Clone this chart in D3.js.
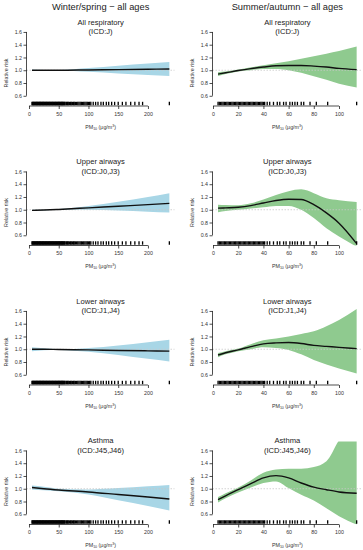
<!DOCTYPE html>
<html>
<head>
<meta charset="utf-8">
<script src="https://cdn.jsdelivr.net/npm/d3@7"></script>
<style>
body { margin: 0; background: #fff; }
svg { display: block; font-family: "Liberation Sans", Arial, sans-serif; }
</style>
</head>
<body>
<svg width="363" height="550"></svg>
<script>
// column headings and panel titles
var columnTitles = ["Winter/spring \u2212 all ages", "Summer/autumn \u2212 all ages"];
var outcomes = ["All respiratory", "Upper airways", "Lower airways", "Asthma"];
var codes = ["(ICD:J)", "(ICD:J0,J3)", "(ICD:J1,J4)", "(ICD:J45,J46)"];

var yTicks = [0.6, 0.8, 1.0, 1.2, 1.4, 1.6];
var xTicksWinter = [0, 50, 100, 150, 200];
var xTicksSummer = [0, 20, 40, 60, 80, 100];

// winter/spring curves (PM10 values along x)
var xWinter = [5, 25, 50, 100, 150, 200, 236];
var allRespWFit = [1.00, 1.00, 1.00, 1.005, 1.01, 1.015, 1.02];
var allRespWLo = [0.99, 0.995, 0.995, 0.975, 0.95, 0.925, 0.91];
var allRespWHi = [1.01, 1.005, 1.005, 1.035, 1.07, 1.105, 1.13];
var upperWFit = [0.99, 0.995, 1.005, 1.03, 1.055, 1.08, 1.10];
var upperWLo = [0.98, 0.99, 1.0, 1.0, 0.99, 0.97, 0.955];
var upperWHi = [1.0, 1.0, 1.01, 1.06, 1.125, 1.2, 1.26];
var lowerWFit = [1.00, 1.00, 0.995, 0.99, 0.98, 0.975, 0.97];
var lowerWLo = [0.97, 0.985, 0.99, 0.96, 0.91, 0.85, 0.81];
var lowerWHi = [1.03, 1.015, 1.0, 1.02, 1.06, 1.11, 1.15];
var asthmaWFit = [1.02, 1.00, 0.98, 0.95, 0.91, 0.87, 0.84];
var asthmaWLo = [0.99, 0.975, 0.96, 0.91, 0.82, 0.73, 0.66];
var asthmaWHi = [1.05, 1.03, 1.00, 0.99, 1.01, 1.04, 1.06];

// summer/autumn curves
var xSummer = [4, 10, 20, 30, 40, 50, 60, 70, 80, 90, 100, 114];
var allRespSFit = [0.94, 0.96, 0.995, 1.025, 1.05, 1.07, 1.075, 1.075, 1.065, 1.05, 1.03, 1.01];
var allRespSLo = [0.91, 0.94, 0.98, 1.0, 1.02, 1.02, 1.0, 0.96, 0.905, 0.85, 0.79, 0.73];
var allRespSHi = [0.97, 0.98, 1.01, 1.045, 1.08, 1.11, 1.14, 1.18, 1.22, 1.26, 1.30, 1.37];
var upperSFit = [1.025, 1.03, 1.04, 1.065, 1.105, 1.145, 1.165, 1.16, 1.08, 0.95, 0.79, 0.47];
var upperSLo = [0.96, 0.98, 1.0, 1.02, 1.04, 1.06, 1.06, 1.0, 0.87, 0.71, 0.58, 0.42];
var upperSHi = [1.08, 1.075, 1.07, 1.10, 1.16, 1.23, 1.29, 1.32, 1.26, 1.18, 1.15, 1.12];
var lowerSFit = [0.91, 0.945, 0.99, 1.04, 1.085, 1.10, 1.105, 1.09, 1.06, 1.045, 1.03, 1.01];
var lowerSLo = [0.875, 0.92, 0.97, 1.0, 1.03, 1.02, 0.99, 0.92, 0.83, 0.76, 0.70, 0.62];
var lowerSHi = [0.94, 0.97, 1.01, 1.08, 1.14, 1.17, 1.20, 1.24, 1.28, 1.36, 1.46, 1.63];
var asthmaSFit = [0.83, 0.89, 0.985, 1.08, 1.17, 1.205, 1.17, 1.09, 1.025, 0.985, 0.95, 0.93];
var asthmaSLo = [0.785, 0.85, 0.94, 1.02, 1.09, 1.115, 1.01, 0.905, 0.815, 0.695, 0.57, 0.44];
var asthmaSHi = [0.87, 0.93, 1.02, 1.13, 1.25, 1.30, 1.315, 1.315, 1.34, 1.43, 1.76, 2.1];

// observed PM10 values shown as rug
var rugWinter = [5,6,7,8,9,10,11,12,13,14,15,16,17,18,19,20,21,22,23,24,25,26,27,28,29,30,
  31,32,33,34,35,36,37,38,39,40,41,42,43,44,45,46,47,48,49,50,51,52,53,54,55,56,57,58,59,60,
  62,63,65,66,68,70,71,73,75,76,78,80,82,84,86,88,90,92,94,96,98,100,102,104,
  108,112,116,121,125,130,134,139,144,150,157,163,171,178,185,191,236];
var rugSummer = [4,5,6,7,8,9,10,11,12,13,14,15,16,17,18,19,20,21,22,23,24,25,26,27,28,29,30,
  31,32,33,34,35,36,37,38,39,40,41,43,45,48,51,53,56,58,61,63,65,67,70,72,77,82,91,114];

var winterPanels = [
  { fit: allRespWFit, lo: allRespWLo, hi: allRespWHi },
  { fit: upperWFit, lo: upperWLo, hi: upperWHi },
  { fit: lowerWFit, lo: lowerWLo, hi: lowerWHi },
  { fit: asthmaWFit, lo: asthmaWLo, hi: asthmaWHi }];
var summerPanels = [
  { fit: allRespSFit, lo: allRespSLo, hi: allRespSHi },
  { fit: upperSFit, lo: upperSLo, hi: upperSHi },
  { fit: lowerSFit, lo: lowerSLo, hi: lowerSHi },
  { fit: asthmaSFit, lo: asthmaSLo, hi: asthmaSHi }];

var columns = [
  { xs: xWinter, panels: winterPanels, rug: rugWinter, ticks: xTicksWinter, fill: "#a8d6e6",
    x: d3.scaleLinear().domain([-4.2, 245]).range([26.5, 174.7]) },
  { xs: xSummer, panels: summerPanels, rug: rugSummer, ticks: xTicksSummer, fill: "#8fca8f",
    x: d3.scaleLinear().domain([-0.4, 118.4]).range([212.5, 362.2]) }
];

var rowStep = 139.5;
var svg = d3.select("svg");

columns.forEach(function (col, ci) {
  var x = col.x;
  var cx = (x.range()[0] + x.range()[1]) / 2;

  svg.append("text")
    .attr("x", cx).attr("y", 9.6)
    .attr("text-anchor", "middle")
    .attr("font-size", 9.3)
    .attr("fill", "#222")
    .text(columnTitles[ci]);

  col.panels.forEach(function (p, r) {
    var oy = r * rowStep;
    var y = d3.scaleLinear().domain([0.44, 1.74]).range([oy + 106, oy + 23]);
    var axisY = oy + 106;
    var g = svg.append("g");

    var clipId = "clip" + ci + r;
    g.append("clipPath").attr("id", clipId)
      .append("rect")
      .attr("x", x.range()[0]).attr("y", y.range()[1])
      .attr("width", x.range()[1] - x.range()[0])
      .attr("height", y.range()[0] - y.range()[1]);

    var rows = col.xs.map(function (v, i) {
      return { x: v, fit: p.fit[i], lo: p.lo[i], hi: p.hi[i] };
    });

    var band = d3.area()
      .x(function (d) { return x(d.x); })
      .y0(function (d) { return y(d.lo); })
      .y1(function (d) { return y(d.hi); })
      .curve(d3.curveMonotoneX);
    var line = d3.line()
      .x(function (d) { return x(d.x); })
      .y(function (d) { return y(d.fit); })
      .curve(d3.curveMonotoneX);

    var plot = g.append("g").attr("clip-path", "url(#" + clipId + ")");
    plot.append("path")
      .datum(rows)
      .attr("d", band)
      .attr("fill", col.fill);

    // reference line at RR = 1
    plot.append("line")
      .attr("x1", x.range()[0]).attr("x2", x.range()[1])
      .attr("y1", y(1)).attr("y2", y(1))
      .attr("stroke", "#c8c8c8")
      .attr("stroke-width", 0.8)
      .attr("stroke-dasharray", "1.5,1.5");

    plot.append("path")
      .datum(rows)
      .attr("d", line)
      .attr("fill", "none")
      .attr("stroke", "#111")
      .attr("stroke-width", 1.4);

    // rug
    g.selectAll(".rug")
      .data(col.rug)
      .enter()
      .append("line")
      .attr("class", "rug")
      .attr("x1", function (d) { return x(d); })
      .attr("x2", function (d) { return x(d); })
      .attr("y1", axisY - 4.2)
      .attr("y2", axisY - 0.8)
      .attr("stroke", "#000")
      .attr("stroke-width", 1.3);

    // y axis
    var yAxis = d3.axisLeft(y).tickValues(yTicks).tickSize(3).tickPadding(1.5)
      .tickFormat(d3.format(".1f"));
    var ya = g.append("g")
      .attr("transform", "translate(" + x.range()[0] + ",0)")
      .call(yAxis);
    ya.select(".domain").remove();
    ya.append("line")
      .attr("y1", y(0.6)).attr("y2", y(1.6))
      .attr("stroke", "#000").attr("stroke-width", 0.7);
    ya.selectAll(".tick line").attr("stroke-width", 0.7);
    ya.selectAll("text").attr("font-size", 5.3).attr("fill", "#333")
      .attr("font-family", "Liberation Sans, Arial, sans-serif");

    // x axis
    var xAxis = d3.axisBottom(x).tickValues(col.ticks).tickSize(3).tickPadding(3);
    var xa = g.append("g")
      .attr("transform", "translate(0," + axisY + ")")
      .call(xAxis);
    xa.select(".domain").remove();
    xa.append("line")
      .attr("x1", x(col.ticks[0])).attr("x2", x(col.ticks[col.ticks.length - 1]))
      .attr("stroke", "#000").attr("stroke-width", 0.7);
    xa.selectAll(".tick line").attr("stroke-width", 0.7);
    xa.selectAll("text").attr("font-size", 5.3).attr("fill", "#333")
      .attr("font-family", "Liberation Sans, Arial, sans-serif");

    // x label PM10 (ug/m3)
    var xl = g.append("text")
      .attr("x", cx).attr("y", axisY + 22.5)
      .attr("text-anchor", "middle")
      .attr("font-size", 5.3)
      .attr("fill", "#333");
    xl.append("tspan").text("PM");
    xl.append("tspan").attr("font-size", 3.6).attr("dy", 1.2).text("10");
    xl.append("tspan").attr("dy", -1.2).text(" (\u03bcg/m");
    xl.append("tspan").attr("font-size", 3.6).attr("dy", -2).text("3");
    xl.append("tspan").attr("dy", 2).text(")");

    // y label
    g.append("text")
      .attr("transform", "translate(" + (x.range()[0] - 19) + "," + (axisY - 33) + ") rotate(-90)")
      .attr("text-anchor", "middle")
      .attr("font-size", 5.3)
      .attr("fill", "#333")
      .text("Relative risk");

    // panel title
    g.append("text")
      .attr("x", cx).attr("y", oy + 24.5)
      .attr("text-anchor", "middle")
      .attr("font-size", 7.6)
      .attr("fill", "#222")
      .text(outcomes[r]);
    g.append("text")
      .attr("x", cx).attr("y", oy + 34.3)
      .attr("text-anchor", "middle")
      .attr("font-size", 7.6)
      .attr("fill", "#222")
      .text(codes[r]);
  });
});
</script>
</body>
</html>
